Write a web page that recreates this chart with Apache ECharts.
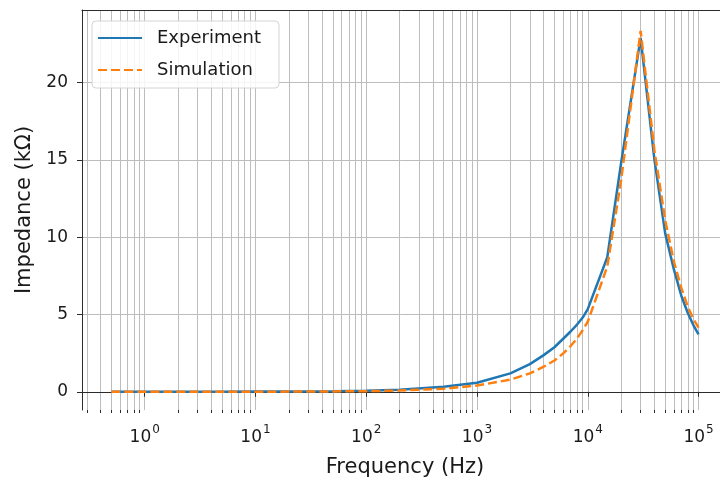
<!DOCTYPE html>
<html>
<head>
<meta charset="utf-8">
<script src="https://cdn.jsdelivr.net/npm/echarts@6/dist/echarts.min.js"></script>
<style>
  html, body { margin: 0; padding: 0; background: #ffffff; }
  #chart { width: 720px; height: 481px; }
</style>
</head>
<body>
<div id="chart"></div>
<script>
// Measured impedance response vs. simulated response of the resonant circuit
const frequency = [0.5, 1, 2, 5, 10, 20, 50, 100, 200, 500, 1000, 2000, 3000, 4000, 5000,
  6000, 7000, 8000, 9000, 10000, 15000, 20000, 30000, 40000, 50000, 60000, 70000, 80000, 90000, 100000];
const experiment = [0.00, 0.00, 0.00, 0.00, 0.01, 0.01, 0.03, 0.06, 0.13, 0.33, 0.58, 1.19, 1.79, 2.37, 2.88,
  3.43, 3.90, 4.35, 4.80, 5.35, 8.70, 14.8, 22.9, 15.0, 10.25, 7.9, 6.2, 5.1, 4.3, 3.72];
const simulation = [0.00, 0.00, 0.00, 0.00, 0.00, 0.01, 0.02, 0.04, 0.08, 0.20, 0.40, 0.78, 1.19, 1.62, 2.02,
  2.48, 2.96, 3.45, 3.99, 4.53, 8.10, 13.7, 23.35, 15.6, 11.1, 8.4, 6.7, 5.5, 4.7, 4.15];

// Axis ticks
const xMajorTicks = [1, 10, 100, 1000, 10000, 100000];
const xMinorMultiples = [2, 3, 4, 5, 6, 7, 8, 9];
const xDecades = [0.1, 1, 10, 100, 1000, 10000];
const yTicks = [0, 5, 10, 15, 20];

const xMinorTicks = [];
xDecades.forEach(d => xMinorMultiples.forEach(m => xMinorTicks.push(+(d * m).toPrecision(3))));

const FONT = 'DejaVu Sans';
const INK = '#1a1a1a';
const SPINE = '#2b2b2b';
const GRID = '#bdbdbd';
const X_MIN = Math.pow(10, -0.566);
const X_MAX = Math.pow(10, 5.266);

const chart = echarts.init(document.getElementById('chart'), null, { renderer: 'canvas' });

const option = {
  animation: false,
  backgroundColor: '#ffffff',
  grid: {
    left: 82, top: 10, width: 646, height: 400,
    outerBoundsMode: 'none', containLabel: false,
    show: false
  },
  legend: {
    orient: 'vertical',
    left: 92, top: 21,
    itemWidth: 44, itemHeight: 12, itemGap: 12,
    padding: [7, 18, 8, 5],
    backgroundColor: 'rgba(255,255,255,0.85)',
    borderColor: '#d4d4d4', borderWidth: 1, borderRadius: 4,
    itemStyle: { color: 'rgba(0,0,0,0)', borderColor: 'rgba(0,0,0,0)', borderWidth: 0 },
    textStyle: { fontFamily: FONT, fontSize: 18, color: INK, lineHeight: 20, padding: [0, 0, 0, 10] },
    data: ['Experiment', 'Simulation']
  },
  xAxis: [
    {
      type: 'log', logBase: 10, min: X_MIN, max: X_MAX,
      name: 'Frequency (Hz)', nameLocation: 'middle', nameGap: 47,
      nameTextStyle: { fontFamily: FONT, fontSize: 21, color: INK },
      axisLine: { show: true, lineStyle: { color: SPINE, width: 1 } },
      axisTick: { show: true, length: 5, customValues: xMajorTicks, lineStyle: { color: SPINE, width: 1 } },
      axisLabel: {
        customValues: xMajorTicks, margin: 14,
        formatter: v => '{b|10}{s|' + Math.round(Math.log10(v)) + '}',
        rich: {
          b: { fontFamily: FONT, fontSize: 17, color: INK, lineHeight: 22, verticalAlign: 'bottom' },
          s: { fontFamily: FONT, fontSize: 12, color: INK, lineHeight: 22, verticalAlign: 'top', padding: [0, 0, 0, 1] }
        }
      },
      splitLine: { show: true, lineStyle: { color: GRID, width: 1 } },
      minorTick: { show: false }, minorSplitLine: { show: false }
    },
    {
      // minor decade subdivisions: short ticks plus their grid lines
      type: 'log', logBase: 10, min: X_MIN, max: X_MAX, gridIndex: 0, position: 'bottom',
      axisLine: { show: false },
      axisTick: { show: true, length: 3, customValues: xMinorTicks, lineStyle: { color: SPINE, width: 1 } },
      axisLabel: { show: false },
      splitLine: { show: true, lineStyle: { color: GRID, width: 1 } },
      minorTick: { show: false }, minorSplitLine: { show: false }
    },
    {
      // top frame line
      type: 'log', logBase: 10, min: X_MIN, max: X_MAX, gridIndex: 0, position: 'top',
      axisLine: { show: true, lineStyle: { color: SPINE, width: 1 } },
      axisTick: { show: false }, axisLabel: { show: false }, splitLine: { show: false }
    }
  ],
  yAxis: {
    type: 'value', min: -1.18, max: 24.7,
    name: 'Impedance (kΩ)', nameLocation: 'middle', nameGap: 45,
    nameTextStyle: { fontFamily: FONT, fontSize: 21, color: INK },
    axisLine: { show: true, lineStyle: { color: SPINE, width: 1 } },
    axisTick: { show: true, length: 5, customValues: yTicks, lineStyle: { color: SPINE, width: 1 } },
    axisLabel: { customValues: yTicks, margin: 14, fontFamily: FONT, fontSize: 17, color: INK },
    splitLine: { show: true, lineStyle: { color: GRID, width: 1 } }
  },
  series: [
    {
      name: 'Experiment', type: 'line', xAxisIndex: 0,
      data: frequency.map((f, i) => [f, experiment[i]]),
      symbol: 'none', showSymbol: false,
      lineStyle: { color: '#1f77b4', width: 2.5 },
      itemStyle: { color: '#1f77b4' }
    },
    {
      name: 'Simulation', type: 'line', xAxisIndex: 0,
      data: frequency.map((f, i) => [f, simulation[i]]),
      symbol: 'none', showSymbol: false,
      lineStyle: { color: '#ff7f0e', width: 2.5, type: [9, 4] },
      itemStyle: { color: '#ff7f0e' }
    }
  ]
};

chart.setOption(option);
</script>
</body>
</html>
